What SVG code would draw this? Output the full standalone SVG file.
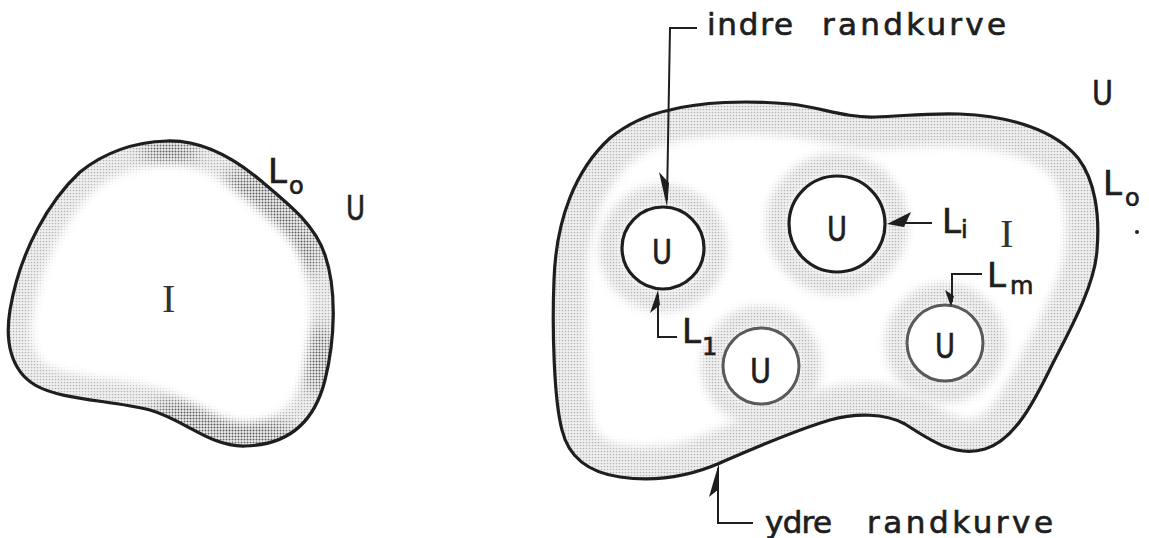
<svg xmlns="http://www.w3.org/2000/svg" xmlns:xlink="http://www.w3.org/1999/xlink" width="1149" height="538" viewBox="0 0 1149 538">
<style>
.outline{fill:none;stroke:#1e1e1e;stroke-width:3.2;stroke-linejoin:round}
.hole{fill:#fff;stroke:#1e1e1e;stroke-width:3.2}
.hole2{fill:#fff;stroke:#5a5a5a;stroke-width:3}
.lead{fill:none;stroke:#1e1e1e;stroke-width:2}
.barb{fill:#1e1e1e;stroke:none}
.t{font-family:"DejaVu Sans","Liberation Sans",sans-serif;fill:#1e1e1e;stroke:#1e1e1e;stroke-width:0.7}
.big{font-size:34px}
.sub{font-size:24px}
.ser{font-family:"Liberation Serif","DejaVu Serif",serif;font-size:40px;fill:#333}
.lab{font-size:31px}
</style>
<defs>
<pattern id="ht" width="3" height="3" patternUnits="userSpaceOnUse"><rect width="3" height="3" fill="#f0f0f0"/><circle cx="1.5" cy="1.5" r="0.85" fill="#b4b4b4"/></pattern>
<pattern id="htd" width="3" height="3" patternUnits="userSpaceOnUse"><circle cx="1.5" cy="1.5" r="1" fill="#3a3a3a"/></pattern>
<filter id="soft" x="-50%" y="-50%" width="200%" height="200%"><feGaussianBlur stdDeviation="4.5"/></filter>
<filter id="soft2" x="-50%" y="-50%" width="200%" height="200%"><feGaussianBlur stdDeviation="8"/></filter>
<path id="blobL" d="M167,141 C200,140 230,155 260,180 C290,205 315,225 325,255 C337,290 335,340 325,380 C315,420 290,445 245,446 C210,447 185,420 150,410 C110,400 60,400 35,385 C10,370 5,340 10,310 C20,250 50,200 80,172 C105,152 135,142 167,141 Z"/>
<path id="blobR" d="M670,110 C700,102 745,100 790,104 C820,107 845,118 875,117 C905,116 925,113 960,114 C1010,116 1055,130 1078,158 C1095,180 1100,215 1097,250 C1095,285 1070,330 1052,365 C1035,400 1015,440 985,449 C955,458 930,440 905,424 C885,413 855,413 830,420 C790,432 750,450 720,463 C690,476 655,482 620,477 C585,472 568,455 562,430 C554,400 552,330 554,280 C556,220 575,170 610,138 C630,122 650,114 670,110 Z"/>
<clipPath id="clipL"><use xlink:href="#blobL"/></clipPath>
<clipPath id="clipR"><use xlink:href="#blobR"/></clipPath>
<mask id="bandL" maskUnits="userSpaceOnUse" x="0" y="0" width="1149" height="538">
<use xlink:href="#blobL" fill="none" stroke="#fff" stroke-width="46" filter="url(#soft)"/>
</mask>
<mask id="darkL" maskUnits="userSpaceOnUse" x="0" y="0" width="1149" height="538">
<g fill="#fff" filter="url(#soft2)">
<ellipse cx="170" cy="152" rx="28" ry="16"/>
<ellipse cx="262" cy="205" rx="45" ry="32" transform="rotate(40 262 205)"/>
<ellipse cx="300" cy="250" rx="22" ry="28"/>
<ellipse cx="225" cy="425" rx="75" ry="22" transform="rotate(12 225 425)"/>
<ellipse cx="318" cy="360" rx="16" ry="35"/>
</g>
</mask>
<mask id="bandR" maskUnits="userSpaceOnUse" x="0" y="0" width="1149" height="538">
<use xlink:href="#blobR" fill="none" stroke="#fff" stroke-width="64" filter="url(#soft)"/>
<g fill="none" stroke="#fff" stroke-width="22" filter="url(#soft)">
<circle cx="663" cy="248" r="53"/>
<circle cx="837" cy="224" r="60"/>
<circle cx="761" cy="366" r="49"/>
<circle cx="945" cy="343" r="49"/>
</g>
</mask>
</defs>
<rect width="1149" height="538" fill="#fff"/>

<g id="region-left">
<g clip-path="url(#clipL)">
<rect x="0" y="100" width="360" height="370" fill="url(#ht)" mask="url(#bandL)"/>
<g mask="url(#bandL)"><rect x="0" y="100" width="360" height="370" fill="url(#htd)" mask="url(#darkL)" opacity="0.75"/></g>
</g>
<use xlink:href="#blobL" class="outline"/>
<text class="ser" x="162" y="312">I</text>
<text class="t big" x="268" y="183">L</text><text class="t sub" x="289" y="194">o</text>
<text class="t big" x="346" y="220" textLength="19" lengthAdjust="spacingAndGlyphs">U</text>
</g>

<g id="region-right">
<g clip-path="url(#clipR)">
<rect x="540" y="90" width="580" height="400" fill="url(#ht)" mask="url(#bandR)"/>
</g>
<use xlink:href="#blobR" class="outline"/>
<text class="t big" x="1092" y="105" textLength="21" lengthAdjust="spacingAndGlyphs">U</text>
<text class="t big" x="1103" y="195">L</text><text class="t sub" x="1125" y="206">o</text>
<circle cx="1137" cy="232" r="2" fill="#222"/>
<text class="ser" x="1000" y="247">I</text>
</g>

<g id="hole-1">
<circle class="hole" cx="663" cy="248" r="41"/>
<text class="t big" x="652" y="264" textLength="20" lengthAdjust="spacingAndGlyphs">U</text>
<text class="t big" x="682" y="343">L</text><text class="t sub" x="702" y="355">1</text>
</g>
<g id="hole-i">
<circle class="hole" cx="837" cy="224" r="48"/>
<text class="t big" x="827" y="241" textLength="20" lengthAdjust="spacingAndGlyphs">U</text>
<text class="t big" x="942" y="233">L</text><text class="t sub" x="961" y="238">i</text>
</g>
<g id="hole-b">
<circle class="hole2" cx="761" cy="366" r="38"/>
<text class="t big" x="750" y="383" textLength="21" lengthAdjust="spacingAndGlyphs">U</text>
</g>
<g id="hole-m">
<circle class="hole2" cx="945" cy="343" r="38"/>
<text class="t big" x="935" y="358" textLength="20" lengthAdjust="spacingAndGlyphs">U</text>
<text class="t big" x="987" y="287">L</text><text class="t sub" x="1010" y="294">m</text>
</g>

<g id="label-indre">
<text class="t lab" y="35"><tspan x="707" textLength="86" lengthAdjust="spacing">indre</tspan> <tspan x="822" textLength="184" lengthAdjust="spacing">randkurve</tspan></text>
</g>
<g id="label-ydre">
<text class="t lab" y="533"><tspan x="765" textLength="67" lengthAdjust="spacing">ydre</tspan> <tspan x="867" textLength="186" lengthAdjust="spacing">randkurve</tspan></text>
</g>

<g id="connectors">
<path class="lead" d="M697,28 H670 L667,200"/>
<polygon class="barb" points="667,207 659,172 669,183"/>
<path class="lead" d="M677,337 H658 V295"/>
<polygon class="barb" points="658,290 650,313 660,305"/>
<path class="lead" d="M932,223 H892"/>
<polygon class="barb" points="887,224 911,212 904,227"/>
<path class="lead" d="M982,274 H952 V302"/>
<polygon class="barb" points="951,307 945,290 954,296"/>
<path class="lead" d="M753,523 H718 V468"/>
<polygon class="barb" points="719,463 709,497 719,489"/>
</g>
</svg>
